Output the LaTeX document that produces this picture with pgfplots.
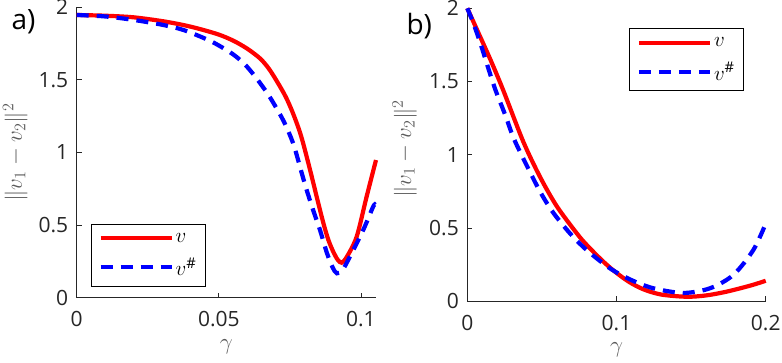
\RequirePackage{fix-cm}
\documentclass[border=0pt]{standalone}
\usepackage{fontspec}
\setmainfont{Open Sans}
\usepackage{pgfplots}
\usepackage{pgfplotstable}
\pgfplotsset{compat=1.18}

\definecolor{axgray}{HTML}{262626}
\definecolor{labgray}{HTML}{5A5A5A}

% panel a: sharp-peaked regime
\pgfplotstableread{
g d
0      1.947
0.010  1.942
0.020  1.931
0.030  1.905
0.0375 1.878
0.0434 1.850
0.050  1.812
0.0551 1.770
0.060  1.715
0.0645 1.648
0.0675 1.580
0.0703 1.495
0.0735 1.385
0.0762 1.265
0.0790 1.110
0.0821 0.880
0.0845 0.690
0.0867 0.520
0.0885 0.400
0.0903 0.315
0.0918 0.262
0.0932 0.241
0.0950 0.280
0.0985 0.420
0.1020 0.696
0.1053 0.948
}\avA
\pgfplotstableread{
g d
0      1.947
0.010  1.937
0.020  1.913
0.030  1.880
0.0375 1.844
0.0457 1.780
0.050  1.737
0.0551 1.675
0.0590 1.610
0.0621 1.540
0.0650 1.465
0.0680 1.380
0.0727 1.220
0.0762 1.060
0.0790 0.870
0.0809 0.742
0.0835 0.585
0.0856 0.466
0.0880 0.310
0.0900 0.210
0.0915 0.168
0.0935 0.190
0.0961 0.282
0.1008 0.466
0.1043 0.627
0.1050 0.640
}\svA
% panel b
\pgfplotstableread{
g d
0      2.000
0.008  1.820
0.0159 1.640
0.0241 1.440
0.0375 1.090
0.0487 0.850
0.0599 0.650
0.0733 0.465
0.080  0.385
0.090  0.282
0.098  0.210
0.108  0.135
0.118  0.082
0.130  0.046
0.147  0.031
0.160  0.040
0.1739 0.066
0.190  0.108
0.200  0.140
}\avB
\pgfplotstableread{
g d
0      2.000
0.004  1.900
0.0085 1.770
0.013  1.625
0.0186 1.450
0.0253 1.275
0.0308 1.120
0.0375 0.975
0.0487 0.750
0.0576 0.605
0.0688 0.464
0.080  0.350
0.0956 0.225
0.110  0.145
0.1247 0.089
0.1448 0.057
0.1627 0.089
0.1783 0.180
0.1917 0.350
0.2000 0.530
}\svB

\pgfplotsset{
  panel/.style={
    scale only axis,
    axis lines=left,
    axis line style={-, axgray, line width=0.8pt},
    tick style={axgray, line width=0.8pt},
    tick align=inside,
    major tick length=5pt,
    clip=false,
    ymin=0, ymax=2,
    ytick={0,0.5,1,1.5,2},
    yticklabels={0,0.5,1,1.5,2},
    scaled ticks=false,
    /pgf/number format/assume math mode=true,
    ticklabel style={font=\fontsize{21}{24}\selectfont, text=axgray},
    xticklabel style={yshift=-10pt},
    yticklabel style={xshift=-5pt},
    label style={font=\fontsize{23}{27}\selectfont, text=labgray},
    ylabel={$\|v_1-v_2\|^2$},
    xlabel={$\gamma$},
    legend cell align=left,
    legend image code/.code={\draw[##1] (0pt,0pt) -- (71pt,0pt);},
    legend style={draw=black, line width=1pt, fill=white,
      font=\fontsize{21}{24}\selectfont, row sep=10pt,
      inner xsep=7pt, inner ysep=7pt},
  },
  vline/.style={red, solid, line width=4.2pt, smooth, tension=0.5},
  vsharp/.style={blue, line width=4.2pt, dash pattern=on 12pt off 8pt, smooth, tension=0.5},
}

\begin{document}
\begin{tikzpicture}
\useasboundingbox (0pt,0pt) rectangle (782pt,363pt);

\begin{axis}[panel,
  at={(76.7pt,65.3pt)}, anchor=south west,
  width=299.3pt, height=290.4pt,
  xmin=0, xmax=0.1053,
  xtick={0,0.05,0.1}, xticklabels={0,0.05,0.1},
  ylabel style={at={(axis description cs:-0.205,0.5)}, anchor=center},
  xlabel style={at={(axis description cs:0.5,-0.169)}, anchor=center},
  legend style={at={(0.0478,0.0379)}, anchor=south west},
]
\addplot[vline] table[x=g,y=d] {\avA};
\addlegendentry{$v$}
\addplot[vsharp] table[x=g,y=d] {\svA};
\addlegendentry{$v^{\#}$}
\end{axis}

\begin{axis}[panel,
  at={(467.3pt,61.7pt)}, anchor=south west,
  width=298.4pt, height=293pt,
  xmin=0, xmax=0.2,
  xtick={0,0.1,0.2}, xticklabels={0,0.1,0.2},
  ylabel style={at={(axis description cs:-0.21,0.52)}, anchor=center},
  xlabel style={at={(axis description cs:0.5,-0.166)}, anchor=center},
  legend style={at={(0.543,0.932)}, anchor=north west},
]
\addplot[vline] table[x=g,y=d] {\avB};
\addlegendentry{$v$}
\addplot[vsharp] table[x=g,y=d] {\svB};
\addlegendentry{$v^{\#}$}
\end{axis}

\node[anchor=base west, font=\fontsize{28}{32}\selectfont] at (8pt,333pt) {a)};
\node[anchor=base west, font=\fontsize{28}{32}\selectfont] at (403pt,328pt) {b)};
\end{tikzpicture}
\end{document}
